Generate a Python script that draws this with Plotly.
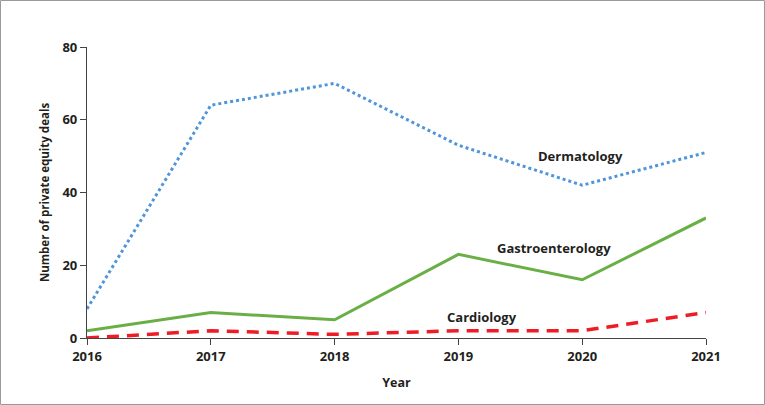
import plotly.graph_objects as go

years = [2016, 2017, 2018, 2019, 2020, 2021]
dermatology = [8, 64, 70, 53, 42, 51]
gastroenterology = [2, 7, 5, 23, 16, 33]
cardiology = [0, 2, 1, 2, 2, 7]

FONT = "Open Sans"
TXT = "#231f20"

fig = go.Figure()
fig.add_trace(go.Scatter(x=years, y=dermatology, mode="lines", name="Dermatology",
                         line=dict(color="#4f95db", width=3, dash="3px,3px")))
fig.add_trace(go.Scatter(x=years, y=gastroenterology, mode="lines", name="Gastroenterology",
                         line=dict(color="#6aaf45", width=3)))
fig.add_trace(go.Scatter(x=years, y=cardiology, mode="lines", name="Cardiology",
                         line=dict(color="#ee1c25", width=3.5, dash="12px,8px")))

labels = [("Dermatology", 2019.99, 50), ("Gastroenterology", 2019.77, 24.7), ("Cardiology", 2019.19, 5.8)]
for t, x, y in labels:
    fig.add_annotation(x=x, y=y, text=f"<b>{t}</b>", showarrow=False,
                       font=dict(family=FONT, size=13, color=TXT))

L, T, PW, PH = 87, 47, 619, 291
fig.add_shape(type="rect", xref="paper", yref="paper",
              x0=(0.5 - L) / PW, x1=(764.5 - L) / PW,
              y0=(T + PH - 404.5) / PH, y1=(T + PH - 0.5) / PH,
              line=dict(color="#9a9a9a", width=1))

fig.update_layout(
    width=765, height=405,
    margin=dict(l=L, r=765 - L - PW, t=T, b=405 - T - PH),
    paper_bgcolor="white", plot_bgcolor="white",
    showlegend=False,
    font=dict(family=FONT, color=TXT),
    xaxis=dict(range=[2016, 2021], tickvals=years, ticktext=[f"<b>{y}</b>" for y in years],
               showgrid=False, zeroline=False, showline=True, linecolor="#444", linewidth=1.2,
               ticks="outside", ticklen=6, tickcolor="#444",
               tickfont=dict(family=FONT, size=13, color=TXT),
               title=dict(text="<b>Year</b>", font=dict(family=FONT, size=12.5, color=TXT), standoff=14)),
    yaxis=dict(range=[0, 80], tickvals=[0, 20, 40, 60, 80],
               ticktext=[f"<b>{v}</b>" for v in [0, 20, 40, 60, 80]],
               showgrid=False, zeroline=False, showline=True, linecolor="#444", linewidth=1.2,
               ticks="outside", ticklen=6, tickcolor="#444",
               tickfont=dict(family=FONT, size=13, color=TXT),
               title=dict(text="<b>Number of private equity deals</b>", font=dict(family=FONT, size=11.5, color=TXT), standoff=10)),
)

fig.write_html("out.html", config={"displayModeBar": False},
               post_script="document.body.style.margin='0';")
